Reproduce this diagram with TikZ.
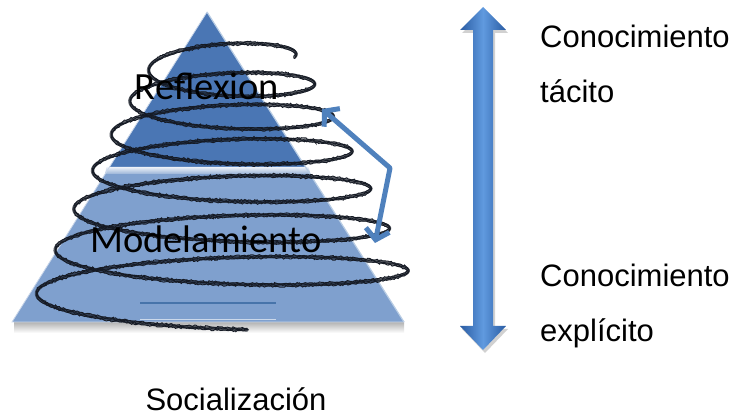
\documentclass[tikz,border=0pt]{standalone}
\usepackage{fontspec}
\setmainfont{Liberation Sans}
\newfontfamily\carlito{Carlito}
\usetikzlibrary{arrows.meta,decorations.pathmorphing}
\definecolor{topblue}{HTML}{4A76B4}
\definecolor{botblue}{HTML}{7FA0CE}
\definecolor{arrblue}{HTML}{4F81BD}
\definecolor{arrdark}{HTML}{2A5CA3}
\definecolor{arrlight}{HTML}{609ADF}
\definecolor{scribcol}{HTML}{151A24}
\tikzset{
  scribbase/.style={draw=scribcol, line width=3.4pt, opacity=0.7, line cap=round},
  scribrough/.style={draw=scribcol, line width=0.9pt, decorate,
     decoration={random steps, segment length=1.5pt, amplitude=1pt}},
  sidetext/.style={anchor=base west, inner sep=0pt, font=\fontsize{31}{36}\selectfont},
  leveltext/.style={anchor=base, inner sep=0pt, font=\carlito\fontsize{38.5}{42}\selectfont},
}
\def\spiralpath{plot[domain=-0.03:6.77, samples=680]({227+(69+18.7*\x)*cos(360*\x)}, {54.8+28.57*\x+1.243*\x*\x-(18+\x)*sin(360*\x)})}
\begin{document}
\begin{tikzpicture}[x=1pt, y=-1pt]
\useasboundingbox (0,0) rectangle (739,419);
\pgfmathsetseed{7}
% shadow under the base
\shade[top color=black!30, bottom color=white] (14,322) rectangle (404,333);
% pyramid
\fill[botblue] (107.6,170) -- (307.4,170) -- (404,322) -- (12,322) -- cycle;
\fill[topblue] (207,12) -- (307.4,170) -- (107.6,170) -- cycle;
\shade[top color=white!90!topblue, bottom color=botblue!80!white] (106.5,167) -- (308.5,167) -- (310.5,174) -- (105,174) -- cycle;
\draw[white!60!arrblue, line width=1.2pt] (207,12) -- (404,322);
\draw[white!70!topblue, line width=0.8pt] (207,12) -- (12,322) -- (404,322);
\draw[arrblue!90!black, line width=1.2pt] (140,303) -- (276,303);
\draw[white!60!botblue, line width=1pt] (140,320) -- (276,320);
% spiral scribble
\draw[scribbase] \spiralpath;
\draw[scribrough, yshift=-1.4pt] \spiralpath;
\draw[scribrough, yshift=1.4pt] \spiralpath;
\draw[scribrough, xshift=0.8pt] \spiralpath;
% level labels
\node[leveltext] (refl) at (207,100) {Reflexion};
\node[leveltext] (model) at (206,253) {Modelamiento};
\node[anchor=base, inner sep=0pt, font=\fontsize{31}{36}\selectfont] (soc) at (236,411) {Socialización};
% small double arrow
\coordinate (s1) at (322,109);
\coordinate (s2) at (390,168);
\coordinate (s3) at (375,243);
\draw[arrblue, line width=5pt, line join=round,
  {Straight Barb[length=10pt,width=24pt]}-{Straight Barb[length=10pt,width=24pt]}] (s1) -- (s2) -- (s3);
% big double arrow
\fill[black!18] (485,10) -- (508,33) -- (495,33) -- (495,329) -- (508,329) -- (485,353)
  -- (462,329) -- (475,329) -- (475,33) -- (462,33) -- cycle;
\shade[left color=arrdark, right color=arrdark, middle color=arrlight]
  (483,7) -- (506,30) -- (493,30) -- (493,326) -- (506,326) -- (483,350)
  -- (460,326) -- (473,326) -- (473,30) -- (460,30) -- cycle;
% side texts
\node[sidetext] (c1) at (540,48) {Conocimiento};
\node[sidetext] (t1) at (540,103) {tácito};
\node[sidetext] (c2) at (540,287) {Conocimiento};
\node[sidetext] (e2) at (540,342) {explícito};
\end{tikzpicture}
\end{document}
